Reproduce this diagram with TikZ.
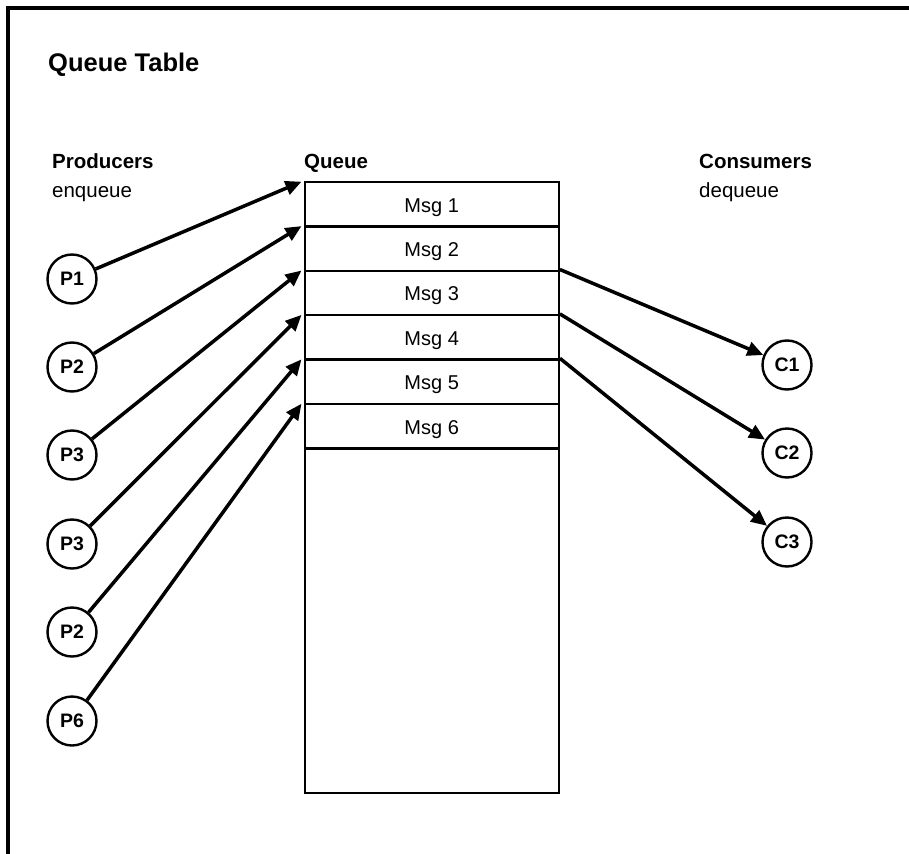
\documentclass[tikz,border=0pt]{standalone}
\usepackage{fontspec}
\setmainfont{Liberation Sans}
\usetikzlibrary{arrows.meta}
\begin{document}
\begin{tikzpicture}[x=1pt,y=-1pt,
  frame/.style={line width=3.8pt},
  column/.style={draw, line width=2.4pt, minimum width=254pt, minimum height=611.3pt,
    inner sep=0pt, anchor=north west},
  msgrow/.style={draw, line width=2.4pt, minimum width=254pt, minimum height=44.4pt,
    inner sep=0pt, anchor=north west, text height=16pt, text depth=0pt,
    font=\fontsize{20}{24}\selectfont},
  agent/.style={circle, draw, line width=2.4pt, minimum size=49pt, inner sep=0pt,
    text height=13.6pt, text depth=0pt, font=\bfseries\fontsize{19.5}{22}\selectfont},
  flow/.style={line width=3.5pt, -{Triangle[length=16pt,width=14pt]}},
  heading/.style={anchor=base west, inner sep=0pt, font=\bfseries\fontsize{20.5}{24}\selectfont},
  note/.style={anchor=base west, inner sep=0pt, font=\fontsize{20.5}{24}\selectfont}]

\useasboundingbox (0,0) rectangle (909,853);
\clip (0,0) rectangle (909,853);
\fill[white] (0,0) rectangle (909,853);

% outer frame (only its left and top sides fall on the page)
\coordinate (fbl) at (8,870);
\coordinate (ftl) at (8,8);
\coordinate (ftr) at (930,8);
\draw[frame] (fbl) -- (ftl) -- (ftr);

% titles
\node[anchor=base west, inner sep=0pt, font=\bfseries\fontsize{25.5}{30}\selectfont] (title) at (48,72) {Queue Table};
\node[heading] (prodh) at (52,168) {Producers};
\node[note] (prodn) at (52,197) {enqueue};
\node[heading] (queueh) at (304,168) {Queue};
\node[heading] (consh) at (699,168) {Consumers};
\node[note] (consn) at (699,197) {dequeue};

% queue column and its message rows
\node[column] (col) at (303.5,180.7) {};
\foreach \i in {1,...,6} {
  \node[msgrow] (m\i) at (303.5,{180.7+44.4*(\i-1)}) {Msg \i};
}

% producers
\node[agent] (p1) at (72,279) {P1};
\node[agent] (p2) at (72,367) {P2};
\node[agent] (p3) at (72,455) {P3};
\node[agent] (p4) at (72,544) {P3};
\node[agent] (p5) at (72,632) {P2};
\node[agent] (p6) at (72,721) {P6};

% consumers
\node[agent] (c1) at (787,365) {C1};
\node[agent] (c2) at (787,453) {C2};
\node[agent] (c3) at (787,542) {C3};

% enqueue arrows
\foreach \i in {1,...,6} {
  \draw[flow] (p\i) -- ([xshift=-2pt,yshift=-1pt]m\i.north west);
}

% dequeue arrows
\draw[flow] (m3.north east) -- (c1);
\draw[flow] (m4.north east) -- (c2);
\draw[flow] (m5.north east) -- (c3);
\end{tikzpicture}
\end{document}
